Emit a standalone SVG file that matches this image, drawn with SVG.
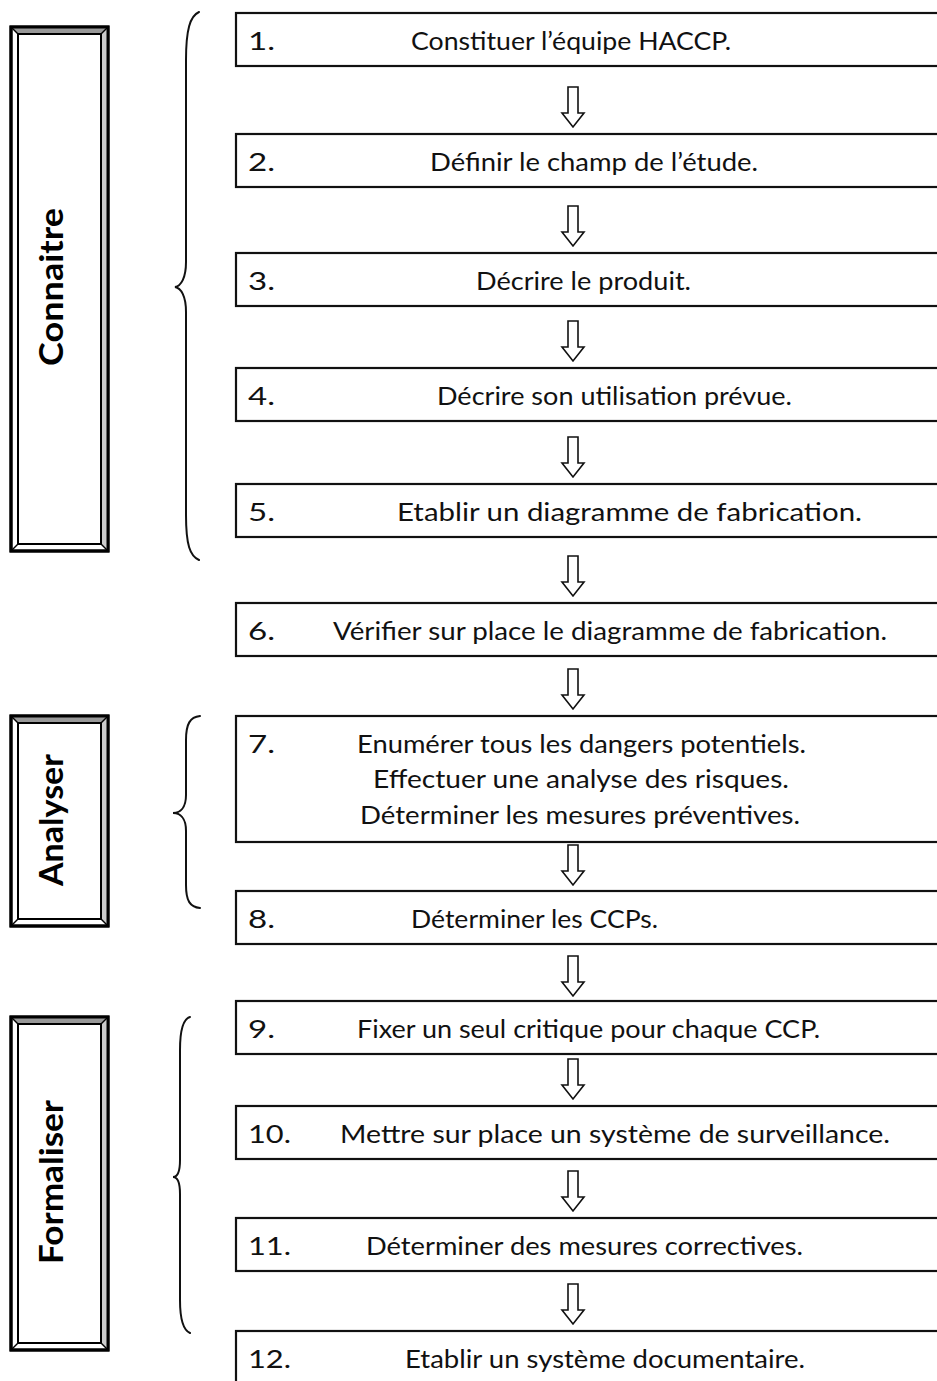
<svg xmlns="http://www.w3.org/2000/svg" width="937" height="1381" viewBox="0 0 937 1381">
  <defs>
    <style>
      .box { fill: #ffffff; stroke: #111111; stroke-width: 2.2; }
      .num { font-family: Lato, "Liberation Sans", sans-serif; font-size: 25px; fill: #111111; }
      .lbl { font-family: Lato, "Liberation Sans", sans-serif; font-size: 25px; fill: #111111; }
      .phase { font-family: Lato, "Liberation Sans", sans-serif; font-size: 33px; font-weight: bold; fill: #000000; text-anchor: middle; }
      .brace { fill: none; stroke: #111111; stroke-width: 2; stroke-linecap: round; }
      .arrow { fill: #ffffff; stroke: #111111; stroke-width: 1.6; stroke-linejoin: miter; }
      .outer { fill: #ffffff; stroke: #000000; stroke-width: 3; }
      .frame-line { fill: none; stroke: #000000; stroke-width: 3; }
      .inner { fill: #ffffff; stroke: #000000; stroke-width: 2; }
      .bevel-top { fill: #999999; }
      .bevel-right { fill: #cccccc; }
      .edge { stroke: #000000; stroke-width: 1.4; }
    </style>
    <!-- hollow down arrow, tip at (0,0) -->
    <polygon id="downArrow" class="arrow" points="-5,-40 5,-40 5,-14 11,-14 0,0 -11,-14 -5,-14"/>
  </defs>

  <rect width="937" height="1381" fill="#ffffff"/>

  <!-- phase frames (bevelled) -->
  <g id="phase-connaitre">
    <rect class="outer" x="11" y="27" width="97" height="524"/>
    <polygon class="bevel-top" points="11,27 108,27 101,34 18,34"/>
    <polygon class="bevel-right" points="108,27 108,551 101,544 101,34"/>
    <rect class="frame-line" x="11" y="27" width="97" height="524"/>
    <rect class="inner" x="18" y="34" width="83" height="510"/>
    <line class="edge" x1="11" y1="27" x2="18" y2="34"/>
    <line class="edge" x1="108" y1="27" x2="101" y2="34"/>
    <line class="edge" x1="11" y1="551" x2="18" y2="544"/>
    <line class="edge" x1="108" y1="551" x2="101" y2="544"/>
    <text class="phase" transform="translate(63,287) rotate(-90)" textLength="158" lengthAdjust="spacingAndGlyphs">Connaitre</text>
  </g>

  <g id="phase-analyser">
    <rect class="outer" x="11" y="716" width="97" height="210"/>
    <polygon class="bevel-top" points="11,716 108,716 101,723 18,723"/>
    <polygon class="bevel-right" points="108,716 108,926 101,919 101,723"/>
    <rect class="frame-line" x="11" y="716" width="97" height="210"/>
    <rect class="inner" x="18" y="723" width="83" height="196"/>
    <line class="edge" x1="11" y1="716" x2="18" y2="723"/>
    <line class="edge" x1="108" y1="716" x2="101" y2="723"/>
    <line class="edge" x1="11" y1="926" x2="18" y2="919"/>
    <line class="edge" x1="108" y1="926" x2="101" y2="919"/>
    <text class="phase" transform="translate(63,820) rotate(-90)" textLength="132" lengthAdjust="spacingAndGlyphs">Analyser</text>
  </g>

  <g id="phase-formaliser">
    <rect class="outer" x="11" y="1017" width="97" height="333"/>
    <polygon class="bevel-top" points="11,1017 108,1017 101,1024 18,1024"/>
    <polygon class="bevel-right" points="108,1017 108,1350 101,1343 101,1024"/>
    <rect class="frame-line" x="11" y="1017" width="97" height="333"/>
    <rect class="inner" x="18" y="1024" width="83" height="319"/>
    <line class="edge" x1="11" y1="1017" x2="18" y2="1024"/>
    <line class="edge" x1="108" y1="1017" x2="101" y2="1024"/>
    <line class="edge" x1="11" y1="1350" x2="18" y2="1343"/>
    <line class="edge" x1="108" y1="1350" x2="101" y2="1343"/>
    <text class="phase" transform="translate(63,1182) rotate(-90)" textLength="164" lengthAdjust="spacingAndGlyphs">Formaliser</text>
  </g>

  <!-- curly braces grouping the steps -->
  <g id="braces">
    <path class="brace" d="M199,12 C190,16 186,30 186,60 L186,262 C186,278 181,286 175,287 C181,288 186,296 186,312 L186,515 C186,545 190,556 199,560"/>
    <path class="brace" d="M200,716 C190,717 186,724 186,740 L186,795 C186,808 180,813 173,813 C180,813 186,818 186,831 L186,885 C186,901 190,907 200,908"/>
    <path class="brace" d="M190,1017 C183,1019 180,1030 180,1050 L180,1160 C180,1172 177,1177 173,1177 C177,1177 180,1182 180,1194 L180,1300 C180,1320 183,1330 190,1333"/>
  </g>

  <!-- step boxes -->
  <g id="step-1">
    <rect class="box" x="236" y="13" width="720" height="53"/>
    <text class="num" x="248" y="50" textLength="27" lengthAdjust="spacingAndGlyphs">1.</text>
    <text class="lbl" x="411" y="50" textLength="320" lengthAdjust="spacingAndGlyphs">Constituer l’équipe HACCP.</text>
  </g>
  <g id="step-2">
    <rect class="box" x="236" y="134" width="720" height="53"/>
    <text class="num" x="248" y="171" textLength="27" lengthAdjust="spacingAndGlyphs">2.</text>
    <text class="lbl" x="430" y="171" textLength="328" lengthAdjust="spacingAndGlyphs">Définir le champ de l’étude.</text>
  </g>
  <g id="step-3">
    <rect class="box" x="236" y="253" width="720" height="53"/>
    <text class="num" x="248" y="290" textLength="27" lengthAdjust="spacingAndGlyphs">3.</text>
    <text class="lbl" x="476" y="290" textLength="215" lengthAdjust="spacingAndGlyphs">Décrire le produit.</text>
  </g>
  <g id="step-4">
    <rect class="box" x="236" y="368" width="720" height="53"/>
    <text class="num" x="248" y="405" textLength="27" lengthAdjust="spacingAndGlyphs">4.</text>
    <text class="lbl" x="437" y="405" textLength="355" lengthAdjust="spacingAndGlyphs">Décrire son utilisation prévue.</text>
  </g>
  <g id="step-5">
    <rect class="box" x="236" y="484" width="720" height="53"/>
    <text class="num" x="248" y="521" textLength="27" lengthAdjust="spacingAndGlyphs">5.</text>
    <text class="lbl" x="397" y="521" textLength="465" lengthAdjust="spacingAndGlyphs">Etablir un diagramme de fabrication.</text>
  </g>
  <g id="step-6">
    <rect class="box" x="236" y="603" width="720" height="53"/>
    <text class="num" x="248" y="640" textLength="27" lengthAdjust="spacingAndGlyphs">6.</text>
    <text class="lbl" x="333" y="640" textLength="554" lengthAdjust="spacingAndGlyphs">Vérifier sur place le diagramme de fabrication.</text>
  </g>
  <g id="step-7">
    <rect class="box" x="236" y="716" width="720" height="126"/>
    <text class="num" x="248" y="753" textLength="27" lengthAdjust="spacingAndGlyphs">7.</text>
    <text class="lbl" x="357" y="753" textLength="449" lengthAdjust="spacingAndGlyphs">Enumérer tous les dangers potentiels.</text>
    <text class="lbl" x="373" y="788" textLength="416" lengthAdjust="spacingAndGlyphs">Effectuer une analyse des risques.</text>
    <text class="lbl" x="360" y="824" textLength="440" lengthAdjust="spacingAndGlyphs">Déterminer les mesures préventives.</text>
  </g>
  <g id="step-8">
    <rect class="box" x="236" y="891" width="720" height="53"/>
    <text class="num" x="248" y="928" textLength="27" lengthAdjust="spacingAndGlyphs">8.</text>
    <text class="lbl" x="411" y="928" textLength="247" lengthAdjust="spacingAndGlyphs">Déterminer les CCPs.</text>
  </g>
  <g id="step-9">
    <rect class="box" x="236" y="1001" width="720" height="53"/>
    <text class="num" x="248" y="1038" textLength="27" lengthAdjust="spacingAndGlyphs">9.</text>
    <text class="lbl" x="357" y="1038" textLength="463" lengthAdjust="spacingAndGlyphs">Fixer un seul critique pour chaque CCP.</text>
  </g>
  <g id="step-10">
    <rect class="box" x="236" y="1106" width="720" height="53"/>
    <text class="num" x="248" y="1143" textLength="43" lengthAdjust="spacingAndGlyphs">10.</text>
    <text class="lbl" x="340" y="1143" textLength="550" lengthAdjust="spacingAndGlyphs">Mettre sur place un système de surveillance.</text>
  </g>
  <g id="step-11">
    <rect class="box" x="236" y="1218" width="720" height="53"/>
    <text class="num" x="248" y="1255" textLength="43" lengthAdjust="spacingAndGlyphs">11.</text>
    <text class="lbl" x="366" y="1255" textLength="437" lengthAdjust="spacingAndGlyphs">Déterminer des mesures correctives.</text>
  </g>
  <g id="step-12">
    <rect class="box" x="236" y="1331" width="720" height="60"/>
    <text class="num" x="248" y="1368" textLength="43" lengthAdjust="spacingAndGlyphs">12.</text>
    <text class="lbl" x="405" y="1368" textLength="400" lengthAdjust="spacingAndGlyphs">Etablir un système documentaire.</text>
  </g>

  <!-- connectors: hollow arrows between consecutive steps -->
  <g id="connectors">
    <use href="#downArrow" x="573" y="127"/>
    <use href="#downArrow" x="573" y="246"/>
    <use href="#downArrow" x="573" y="361"/>
    <use href="#downArrow" x="573" y="477"/>
    <use href="#downArrow" x="573" y="596"/>
    <use href="#downArrow" x="573" y="709"/>
    <use href="#downArrow" x="573" y="885"/>
    <use href="#downArrow" x="573" y="996"/>
    <use href="#downArrow" x="573" y="1099"/>
    <use href="#downArrow" x="573" y="1211"/>
    <use href="#downArrow" x="573" y="1324"/>
  </g>
</svg>
